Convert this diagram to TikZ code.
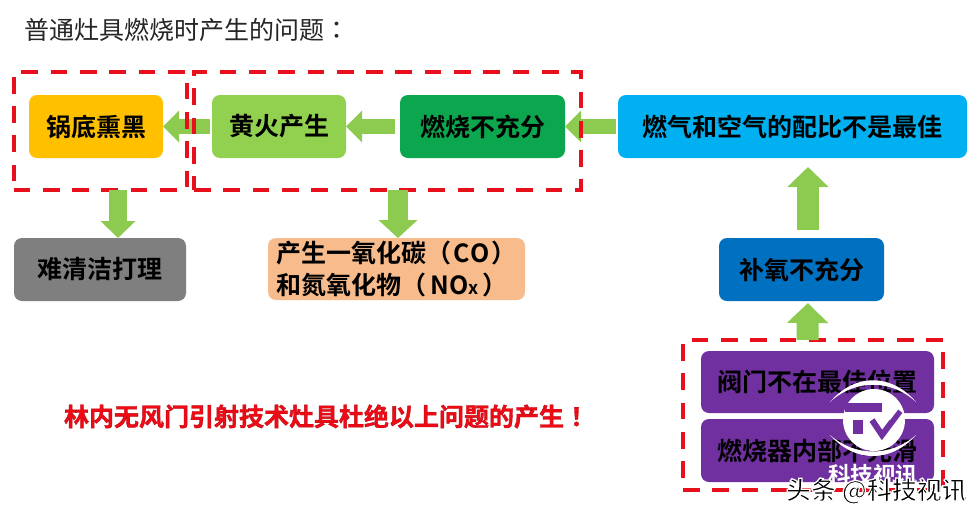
\documentclass[tikz,border=0pt]{standalone}
\usepackage{fontspec}
\setmainfont{Noto Sans CJK SC}[BoldFont=* Bold,Kerning=Off]
\newfontfamily\tcfont{Noto Sans CJK TC}[BoldFont=* Bold,Kerning=Off]
\usetikzlibrary{arrows.meta}
\definecolor{cbar}{HTML}{8CCB50}
\definecolor{cred}{HTML}{E8101C}
\definecolor{cslo}{HTML}{F00A14}
\definecolor{cyel}{HTML}{FFC000}
\definecolor{clime}{HTML}{92D050}
\definecolor{cgrn}{HTML}{0CA64E}
\definecolor{ccya}{HTML}{00B0F0}
\definecolor{cgry}{HTML}{7F7F7F}
\definecolor{cpch}{HTML}{F8BC8C}
\definecolor{cblu}{HTML}{0070C0}
\definecolor{cpur}{HTML}{7030A0}
\newcommand{\strokedtext}[2]{\special{pdf:code q 2 Tr #1}#2\special{pdf:code Q}}
\tikzset{
  x=1pt,y=-1pt,
  flowbox/.style={rounded corners=8pt,inner sep=0pt,outer sep=0pt,font=\fontsize{25}{32}\selectfont\bfseries,text=black,align=center,anchor=north west},
  zone/.style={draw=cred,line width=4pt,dash pattern=on 16.7pt off 12.6pt,inner sep=0pt,outer sep=0pt,anchor=north west},
  hflow/.style={draw=cbar,line width=15pt,-{Triangle[width=31pt,length=16pt,fill=cbar]}},
  vflowa/.style={draw=cbar,line width=18pt,-{Triangle[width=34pt,length=17pt,fill=cbar]}},
  vflowb/.style={draw=cbar,line width=20pt,-{Triangle[width=38pt,length=18pt,fill=cbar]}},
  vflowc/.style={draw=cbar,line width=22pt,-{Triangle[width=40pt,length=20pt,fill=cbar]}},
  plain/.style={inner sep=0pt,outer sep=0pt},
}
\newcommand{\boxat}[7]{\node[flowbox,fill=#6,minimum width=#4pt,minimum height=#5pt] (#1) at (#2,#3) {#7};}
\begin{document}
\begin{tikzpicture}
\useasboundingbox (0,0) rectangle (979,520);
\fill[white] (0,0) rectangle (979,520);
\node[plain,anchor=west,font=\fontsize{25}{30}\selectfont,text=black!85] (title) at (24,30) {普通灶具燃烧时产生的问题{\tcfont ：}};
\boxat{pot}{29}{95}{134}{63}{cyel}{锅底熏黑}
\boxat{flame}{212}{95}{134}{63}{clime}{黄火产生}
\boxat{burn}{400}{95}{165}{63}{cgrn}{燃烧不充分}
\boxat{ratio}{618}{95}{349}{63}{ccya}{燃气和空气的配比不是最佳}
\boxat{clean}{14}{238}{172}{63}{cgry}{难清洁打理}
\node[flowbox,fill=cpch,minimum width=257pt,minimum height=62pt,align=left] (gas) at (268,238) {产生一氧化碳（\hspace{2pt}CO\hspace{2pt}）\\和氮氧化物（\hspace{4pt}NO{\fontsize{18}{20}\selectfont x}\hspace{4pt}）};
\boxat{oxy}{719}{238}{165}{63}{cblu}{补氧不充分}
\boxat{valve}{701}{351}{233}{62}{cpur}{阀门不在最佳位置}
\boxat{inner}{701}{419}{233}{63}{cpur}{燃烧器内部不光滑}
% horizontal flow
\draw[hflow,shorten <=2pt] (flame.west) -- (pot.east);
\draw[hflow,shorten <=5pt] (burn.west) -- (flame.east);
\draw[hflow,shorten <=2pt] (ratio.west) -- (burn.east);
% dashed zones
\node[zone,minimum width=173pt,minimum height=118pt] (zonea) at (13.5,72) {};
\node[zone,minimum width=387pt,minimum height=118pt] (zoneb) at (194,72) {};
\node[zone,minimum width=260pt,minimum height=150pt] (zonec) at (683,340) {};
% vertical flow
\draw[vflowa] ([xshift=18pt]zonea.south) -- ([xshift=18pt]clean.north);
\draw[vflowb] ([xshift=10.5pt]zoneb.south) -- ([xshift=1.5pt]gas.north);
\draw[vflowc,shorten <=8pt,shorten >=9pt] ([xshift=6.5pt]oxy.north) -- ([xshift=15.5pt]ratio.south);
\draw[vflowc,shorten >=2pt] ([xshift=-5.5pt]zonec.north) -- ([xshift=6.5pt]oxy.south);
% slogan
\node[plain,anchor=west,text=cslo,font=\fontsize{25}{30}\selectfont\bfseries] (slogan) at (64,416.5) {\strokedtext{0.35 w 0.72 0.05 0.1 RG}{林内无风门引射技术灶具杜绝以上问题的产生{\tcfont ！}}};
% watermark logo
\fill[white] (874,420) circle[radius=31];
\fill[white] (830,402) .. controls (855,373) and (891,373) .. (916,402) .. controls (891,379) and (855,379) .. (830,402) -- cycle;
\fill[white] (830,435) .. controls (855,463) and (891,463) .. (916,435) .. controls (891,457) and (855,457) .. (830,435) -- cycle;
\fill[cpur] (845,403) rectangle (882,412);
\fill[cpur] (853,420) rectangle (863,434);
\draw[cpur,line width=6pt] (872,420) -- (882,435) -- (900,411);
\fill[white] (882,401) -- (900,407) -- (890,420) -- (882,417) -- cycle;
\node[plain,text=white,font=\fontsize{22.5}{24}\selectfont\bfseries] (wmlogo) at (873,475) {科技视讯};
\node[plain,anchor=west,text=black,font=\fontsize{25}{30}\selectfont\bfseries] (wmtext) at (786,491) {\strokedtext{1.3 w 1 1 1 RG}{头条 @科技视讯}};
\end{tikzpicture}
\end{document}
